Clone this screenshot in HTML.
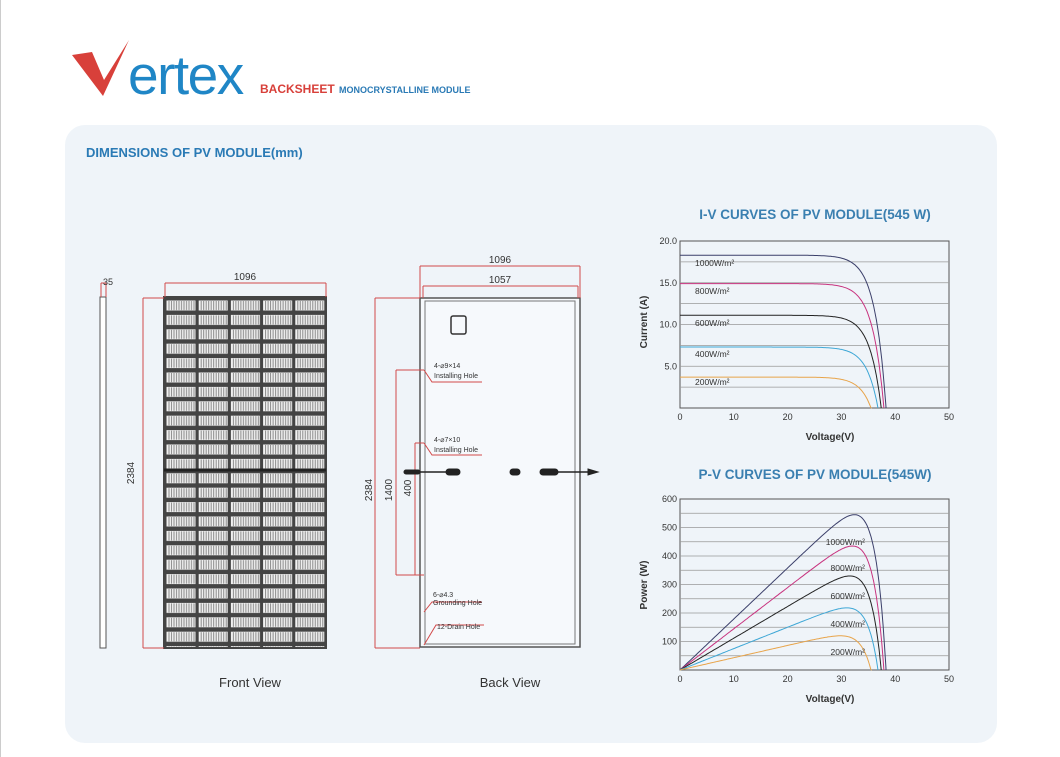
<!DOCTYPE html>
<html><head><meta charset="utf-8">
<style>
html,body{margin:0;padding:0;background:#fff;width:1060px;height:757px;overflow:hidden}
svg{display:block;font-family:"Liberation Sans",sans-serif}
</style></head>
<body>
<svg id="s" width="1060" height="757" viewBox="0 0 1060 757" xmlns="http://www.w3.org/2000/svg">
<defs>
<pattern id="cells" x="165" y="299" width="32.2" height="14.4" patternUnits="userSpaceOnUse">
<rect width="32.2" height="14.4" fill="#444"/>
<rect x="1.5" y="1.5" width="29" height="10" fill="#f2f2f2"/>
<path d="M4 2v9M6.5 2v9M9 2v9M11.5 2v9M14 2v9M16.5 2v9M19 2v9M21.5 2v9M24 2v9M26.5 2v9M29 2v9" stroke="#888" stroke-width="1"/>
</pattern>
</defs>
<rect x="0" y="0" width="1060" height="757" fill="#fff"/>
<line x1="0.5" y1="0" x2="0.5" y2="757" stroke="#ccc"/>
<path d="M72 55 L92 52 L104 80 L129 40 L103 96 Z" fill="#d8403a"/>
<text x="128" y="94" font-size="55" fill="#1f86c6" letter-spacing="-1.5">ertex</text>
<text x="260" y="93" font-size="12" font-weight="bold" fill="#d8403a">BACKSHEET</text>
<text x="339" y="93" font-size="9" font-weight="bold" fill="#2a7ab5">MONOCRYSTALLINE MODULE</text>
<rect x="65" y="125" width="932" height="618" rx="20" fill="#eff4f9"/>
<text x="86" y="157" font-size="13" font-weight="bold" fill="#2a7ab5">DIMENSIONS OF PV MODULE(mm)</text>
<rect x="100" y="297" width="6" height="351" fill="#fff" stroke="#555"/>
<path d="M101 283h5M101 283v14M106 283v14" stroke="#d24a4a" fill="none"/>
<text x="108" y="285" font-size="9" fill="#333" text-anchor="middle">35</text>
<rect x="164" y="297" width="162" height="351" fill="url(#cells)" stroke="#444" stroke-width="2"/>
<line x1="164" y1="470" x2="326" y2="470" stroke="#222" stroke-width="3"/>
<path d="M165 283H326M165 283v14M326 283v14" stroke="#d24a4a" fill="none"/>
<text x="245" y="280" font-size="10" fill="#333" text-anchor="middle">1096</text>
<path d="M143 298V648M143 298h21M143 648h21" stroke="#d24a4a" fill="none"/>
<text transform="translate(134,473) rotate(-90)" font-size="10" fill="#333" text-anchor="middle">2384</text>
<text x="250" y="687" font-size="13" fill="#333" text-anchor="middle">Front View</text>
<rect x="420" y="298" width="160" height="349" fill="#f6f9fc" stroke="#555" stroke-width="1.5"/>
<rect x="425" y="301" width="150" height="343" fill="none" stroke="#777"/>
<rect x="451" y="316" width="15" height="18" rx="2" fill="none" stroke="#333" stroke-width="1.5"/>
<path d="M420 266H580M420 266v32M580 266v32" stroke="#d24a4a" fill="none"/>
<text x="500" y="263" font-size="10" fill="#333" text-anchor="middle">1096</text>
<path d="M423 286H578M423 286v12M578 286v12" stroke="#d24a4a" fill="none"/>
<text x="500" y="283" font-size="10" fill="#333" text-anchor="middle">1057</text>
<path d="M375 298V648M375 298h45M375 648h45" stroke="#d24a4a" fill="none"/>
<text transform="translate(372,490) rotate(-90)" font-size="10" fill="#333" text-anchor="middle">2384</text>
<path d="M396 370V575M396 370h28M396 575h28" stroke="#d24a4a" fill="none"/>
<text transform="translate(392,490) rotate(-90)" font-size="10" fill="#333" text-anchor="middle">1400</text>
<path d="M415 443V575M415 443h9" stroke="#d24a4a" fill="none"/>
<text transform="translate(411,488) rotate(-90)" font-size="10" fill="#333" text-anchor="middle">400</text>
<path d="M424 370l8 12h50M424 443l8 12h50M424 612l8-10h50M424 645l12-20h48" stroke="#d24a4a" fill="none"/>
<text x="434" y="368" font-size="7" fill="#333">4-⌀9×14</text>
<text x="434" y="378" font-size="7" fill="#333">Installing Hole</text>
<text x="434" y="442" font-size="7" fill="#333">4-⌀7×10</text>
<text x="434" y="452" font-size="7" fill="#333">Installing Hole</text>
<text x="433" y="597" font-size="7" fill="#333">6-⌀4.3</text>
<text x="433" y="605" font-size="7" fill="#333">Grounding Hole</text>
<text x="437" y="629" font-size="7" fill="#333">12-Drain Hole</text>
<g fill="#222" stroke="#222">
<rect x="404" y="470" width="16" height="4" rx="2"/><line x1="420" y1="472" x2="446" y2="472" stroke-width="1.5"/><rect x="446" y="469" width="14" height="6" rx="3"/>
<rect x="510" y="469" width="10" height="6" rx="3"/>
<rect x="540" y="469" width="18" height="6" rx="3"/><line x1="558" y1="472" x2="590" y2="472" stroke-width="1.5"/><path d="M588 469l10 3-10 3z"/>
</g>
<text x="510" y="687" font-size="13" fill="#333" text-anchor="middle">Back View</text>
<text x="815" y="219" font-size="13.5" font-weight="bold" fill="#3a7fb0" text-anchor="middle">I-V CURVES OF PV MODULE(545 W)</text>
<text x="815" y="479" font-size="13.5" font-weight="bold" fill="#3a7fb0" text-anchor="middle">P-V CURVES OF PV MODULE(545W)</text>
<g id="g"></g>
</svg>
<script>
var g=document.getElementById('g'),h='';
function X(v){return 680+v*5.38}
function axes(y0,y1,nG){
  h+='<rect x="680" y="'+y0+'" width="269" height="'+(y1-y0)+'" fill="none" stroke="#555"/>';
  for(var i=1;i<nG;i++){var y=y1-(y1-y0)*i/nG;h+='<line x1="680" x2="949" y1="'+y+'" y2="'+y+'" stroke="#999" stroke-width="0.8"/>';}
  for(var v=0;v<=50;v+=10)h+='<text x="'+X(v)+'" y="'+(y1+12)+'" font-size="9" fill="#333" text-anchor="middle">'+v+'</text>';
}
axes(241,408,8);axes(499,670,12);
var iy=['20.0','15.0','10.0','5.0'];
[20,15,10,5].forEach(function(a,k){h+='<text x="677" y="'+(408-a*8.35+3)+'" font-size="9" fill="#333" text-anchor="end">'+iy[k]+'</text>'});
[600,500,400,300,200,100].forEach(function(p){h+='<text x="677" y="'+(670-p*0.285+3)+'" font-size="9" fill="#333" text-anchor="end">'+p+'</text>'});
h+='<text x="830" y="440" font-size="10" font-weight="bold" fill="#333" text-anchor="middle">Voltage(V)</text>';
h+='<text x="830" y="702" font-size="10" font-weight="bold" fill="#333" text-anchor="middle">Voltage(V)</text>';
h+='<text transform="translate(647,322) rotate(-90)" font-size="10" font-weight="bold" fill="#333" text-anchor="middle">Current (A)</text>';
h+='<text transform="translate(647,585) rotate(-90)" font-size="10" font-weight="bold" fill="#333" text-anchor="middle">Power (W)</text>';
var S=[[18.3,38.3,'#3b3f6a','1000',545],[14.9,37.9,'#c8337f','800',435],[11.1,37.4,'#222','600',330],[7.3,36.8,'#3ea7d6','400',218],[3.7,35.5,'#e8a44a','200',120]];
var ly=[266,294,326,357,385],py=[545,571,599,627,655];
S.forEach(function(s,k){
  var a=2.1,pts=[],pmax=0;
  for(var v=0;v<=s[1]+0.001;v+=0.25){
    var I=s[0]*(1-Math.exp((v-s[1])/a))/(1-Math.exp(-s[1]/a));
    if(I<0)I=0;pts.push([v,I]);if(v*I>pmax)pmax=v*I;
  }
  var sc=s[4]/pmax,pi='',pp='';
  pts.forEach(function(p,j){
    pi+=(j?'L':'M')+X(p[0]).toFixed(1)+' '+(408-p[1]*8.35).toFixed(1);
    pp+=(j?'L':'M')+X(p[0]).toFixed(1)+' '+(670-p[0]*p[1]*sc*0.285).toFixed(1);
  });
  pi+='L'+X(s[1])+' 408';pp+='L'+X(s[1])+' 670';
  h+='<path d="'+pi+'" fill="none" stroke="'+s[2]+'" stroke-width="1"/>';
  h+='<path d="'+pp+'" fill="none" stroke="'+s[2]+'" stroke-width="1"/>';
  h+='<text x="695" y="'+ly[k]+'" font-size="8.5" fill="#333">'+s[3]+'W/m²</text>';
  h+='<text x="865" y="'+py[k]+'" font-size="8.5" fill="#333" text-anchor="end">'+s[3]+'W/m²</text>';
});
g.innerHTML=h;
</script>
</body></html>
